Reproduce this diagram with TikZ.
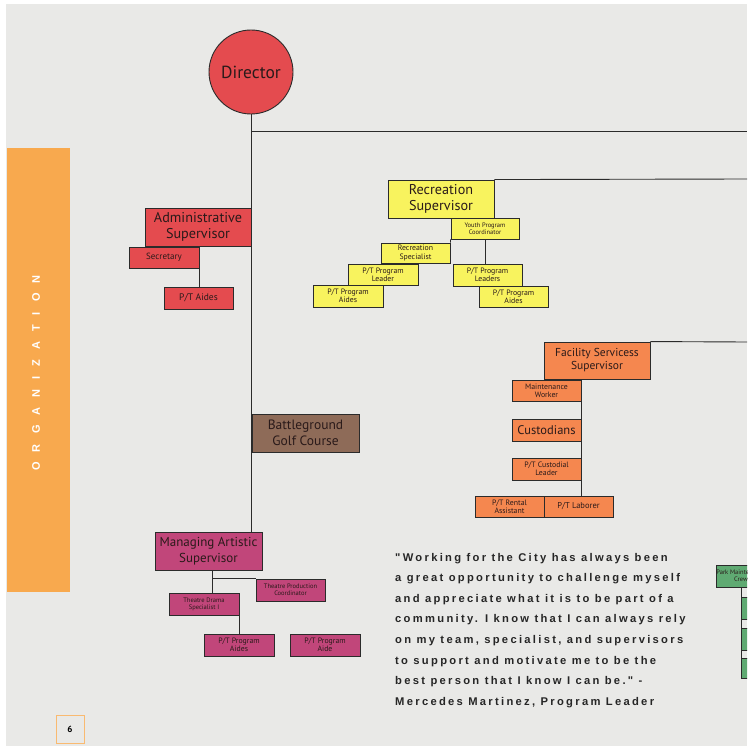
\documentclass[tikz,border=0pt]{standalone}
\usepackage{fontspec}
\setmainfont{PT Sans}
\newfontfamily\quotefont[LetterSpace=20.5]{Liberation Sans}
\newfontfamily\bandfont[LetterSpace=92]{Liberation Sans}
\definecolor{bgc}{HTML}{E9E9E7}
\definecolor{redc}{HTML}{E44B4F}
\definecolor{yelc}{HTML}{F8F35E}
\definecolor{orac}{HTML}{F5874F}
\definecolor{broc}{HTML}{8E6B58}
\definecolor{magc}{HTML}{C1467A}
\definecolor{grec}{HTML}{5FAA72}
\definecolor{bandc}{HTML}{F8A94E}
\definecolor{linec}{HTML}{2B2B2B}
\definecolor{txtc}{HTML}{2A1A1A}
\tikzset{
  bx/.style={draw=linec, line width=0.9pt, inner sep=0pt, align=center, text=txtc, font=\fontsize{7.8}{8.4}\selectfont},
  conn/.style={draw=linec, line width=0.9pt},
  big/.style={font=\fontsize{14.2}{16}\selectfont},
  mid/.style={font=\fontsize{11.5}{13}\selectfont},
  tiny/.style={font=\fontsize{6.5}{7.3}\selectfont},
  qline/.style={anchor=base west, inner sep=0pt, text=black!85, font=\quotefont\bfseries\fontsize{11.2}{12}\selectfont}
}
\begin{document}
\begin{tikzpicture}[x=1pt,y=-1pt]
\useasboundingbox (0,0) rectangle (754,746);
\fill[white] (0,0) rectangle (754,746);
\fill[bgc] (6,4) rectangle (747,746);
% side band
\fill[bandc] (7,148) rectangle (70,592);
\node[rotate=90, text=white, inner sep=0pt, font=\bandfont\bfseries\fontsize{11}{12}\selectfont] (band) at (36,373) {ORGANIZATION};
% page number
\node[draw=bandc!80!white, line width=0.9pt, minimum width=28pt, minimum height=28pt, inner sep=0pt, font=\bfseries\fontsize{9}{10}\selectfont] (pg) at (70,729) {6};

% Director
\node[circle, draw=linec, line width=0.9pt, fill=redc, minimum size=84pt, inner sep=0pt, text=txtc, font=\fontsize{17.5}{19}\selectfont] (dir) at (251,72) {Director};
\coordinate (rA) at (747,131);
\coordinate (rB) at (747,179);
\coordinate (rC) at (747,342);

% Administrative
\node[bx, big, fill=redc, minimum width=106pt, minimum height=38pt] (adm) at (198,227) {Administrative\\Supervisor};
\node[bx, fill=redc, minimum width=70pt, minimum height=21pt, font=\fontsize{9}{10}\selectfont] (sec) at (164,257.5) {Secretary};
\node[bx, fill=redc, minimum width=69pt, minimum height=22pt, font=\fontsize{9.5}{10}\selectfont] (aid) at (198.5,298) {P/T Aides};

% Recreation
\node[bx, big, fill=yelc, minimum width=106pt, minimum height=38pt] (rec) at (441,199) {Recreation\\Supervisor};
\node[bx, tiny, fill=yelc, minimum width=68pt, minimum height=21pt] (ypc) at (485,228.5) {Youth Program\\Coordinator};
\node[bx, fill=yelc, minimum width=69pt, minimum height=20pt] (rsp) at (415.5,253) {Recreation\\Specialist};
\node[bx, fill=yelc, minimum width=70pt, minimum height=21pt] (ptl) at (383,274.5) {P/T Program\\Leader};
\node[bx, fill=yelc, minimum width=70pt, minimum height=22pt] (pta) at (348,296) {P/T Program\\Aides};
\node[bx, fill=yelc, minimum width=69pt, minimum height=22pt] (ptls) at (487.5,275) {P/T Program\\Leaders};
\node[bx, fill=yelc, minimum width=69pt, minimum height=21pt] (ptar) at (513.5,296.5) {P/T Program\\Aides};

% Facility
\node[bx, mid, fill=orac, minimum width=106pt, minimum height=37pt] (fac) at (597,360.5) {Facility Servicess\\Supervisor};
\node[bx, fill=orac, minimum width=69pt, minimum height=21pt] (mnt) at (546.5,390.5) {Maintenance\\Worker};
\node[bx, fill=orac, minimum width=69pt, minimum height=22pt, font=\fontsize{12.5}{13}\selectfont] (cus) at (546.5,430) {Custodians};
\node[bx, fill=orac, minimum width=69pt, minimum height=22pt] (pcl) at (546.5,469) {P/T Custodial\\Leader};
\node[bx, fill=orac, minimum width=69pt, minimum height=21pt] (pra) at (509.5,506.5) {P/T Rental\\Assistant};
\node[bx, fill=orac, minimum width=69pt, minimum height=21pt, font=\fontsize{8.5}{9}\selectfont] (plb) at (578.5,506.5) {P/T Laborer};

% Battleground
\node[bx, fill=broc, minimum width=107pt, minimum height=38pt, font=\fontsize{13.5}{15.5}\selectfont] (bgc) at (305.5,433) {Battleground\\Golf Course};

% Managing Artistic
\node[bx, fill=magc, minimum width=107pt, minimum height=38pt, font=\fontsize{13}{15.5}\selectfont] (mas) at (208.5,551) {Managing Artistic\\Supervisor};
\node[bx, tiny, fill=magc, minimum width=69pt, minimum height=22pt] (tpc) at (290.5,590) {Theatre Production\\Coordinator};
\node[bx, tiny, fill=magc, minimum width=70pt, minimum height=22pt] (tds) at (204,604) {Theatre Drama\\Specialist I};
\node[bx, fill=magc, minimum width=70pt, minimum height=22pt] (ppa) at (239,645) {P/T Program\\Aides};
\node[bx, fill=magc, minimum width=70pt, minimum height=22pt] (ppb) at (325,645) {P/T Program\\Aide};

% green (clipped at page edge)
\begin{scope}
\clip (6,4) rectangle (747,746);
\node[bx, tiny, fill=grec, minimum width=46pt, minimum height=22pt] (pmc) at (741,576) {Park Maintenance\\Crew};
\node[bx, fill=grec, minimum width=30pt, minimum height=22pt, anchor=north west] (g1) at (741,597) {};
\node[bx, fill=grec, minimum width=30pt, minimum height=22pt, anchor=north west] (g2) at (741,628) {};
\node[bx, fill=grec, minimum width=30pt, minimum height=20pt, anchor=north west] (g3) at (741,658) {};
\draw[conn] (pmc.south) -- (g3.south west);
\end{scope}

% connectors
\draw[conn] (dir.south) -- (dir.south |- mas.north);
\draw[conn] (dir.south |- rA) -- (rA);
\draw[conn] (rec.north east) -- (rB);
\draw[conn] (fac.north east) -- (rC);
\draw[conn] (sec.south east) -- (sec.south east |- aid.north);
\draw[conn] (ypc.south west) -- (rsp.north east);
\draw[conn] (ypc.south) -- (ypc.south |- ptls.north);
\draw[conn] (mnt.north east) -- (mnt.north east |- plb.north);
\draw[conn] ([xshift=4pt]mas.south) -- ([xshift=4pt]mas.south |- tds.north);
\draw[conn] ([xshift=4pt]mas.south |- tpc.north west) -- (tpc.north west);
\draw[conn] (tds.south east) -- (tds.south east |- ppa.north);

% quote
\node[qline] (q1) at (395,561) {"Working for the City has always been};
\node[qline] (q2) at (395,581.6) {a great opportunity to challenge myself};
\node[qline] (q3) at (395,602.2) {and appreciate what it is to be part of a};
\node[qline] (q4) at (395,622.8) {community. I know that I can always rely};
\node[qline] (q5) at (395,643.4) {on my team, specialist, and supervisors};
\node[qline] (q6) at (395,664) {to support and motivate me to be the};
\node[qline] (q7) at (395,684.6) {best person that I know I can be." -};
\node[qline] (q8) at (395,705.2) {Mercedes Martinez, Program Leader};
\end{tikzpicture}
\end{document}
